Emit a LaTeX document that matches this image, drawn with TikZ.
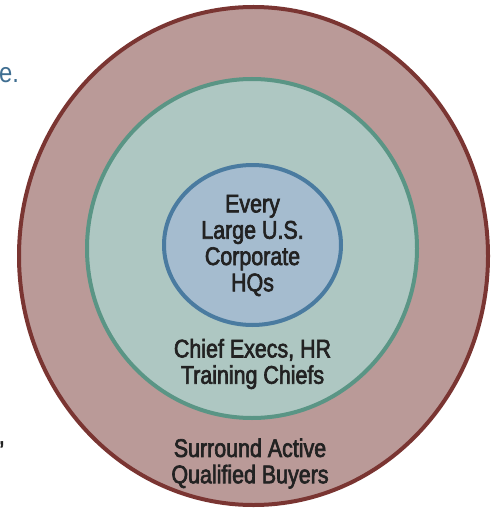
\documentclass[tikz,border=0pt]{standalone}
\usepackage{fontspec}
\setmainfont{Liberation Sans}
\newfontfamily\condfont{Liberation Sans}[FakeStretch=0.84, FakeBold=2.5]
\newfontfamily\plainfont{Liberation Sans}[FakeStretch=0.85]
\usetikzlibrary{shapes.geometric}
\definecolor{outerfill}{HTML}{BA9A98}
\definecolor{outerline}{HTML}{7A3532}
\definecolor{midfill}{HTML}{AEC7C2}
\definecolor{midline}{HTML}{5A9585}
\definecolor{innerfill}{HTML}{A5BCCF}
\definecolor{innerline}{HTML}{4A7BA0}
\definecolor{textdark}{HTML}{222222}
\definecolor{textblue}{HTML}{3F6E91}

\begin{document}
\begin{tikzpicture}[x = 1pt, y = -1pt, ring/.style = {ellipse, line width = 4pt, inner sep = 0pt},
	lbl/.style = {align = center, text = textdark, font = \condfont\fontsize{25.5}{26.3}\selectfont}]

	\useasboundingbox (0, 0) rectangle (497, 508);

	\node (Buyers) at (253.5, 256) [ring, draw = outerline, fill = outerfill, minimum width = 469pt, minimum height = 498pt] {};
	\node (Execs)  at (252, 248.5) [ring, draw = midline, fill = midfill, minimum width = 330pt, minimum height = 339pt] {};
	\node (HQs)    at (252.5, 245) [ring, draw = innerline, fill = innerfill, minimum width = 177pt, minimum height = 160pt] {};

	\node (HQsText)    at (252.5, 245.5) [lbl] {Every\\Large U.S.\\Corporate\\HQs};
	\node (ExecsText)  at (252.5, 364)   [lbl] {Chief Execs, HR\\Training Chiefs};
	\node (BuyersText) at (250, 463.5)   [lbl] {Surround Active\\Qualified Buyers};

	% bits of the text running beside the rings
	\node (TextE)     at (-1, 83)  [anchor = base west, inner sep = 0pt, text = textblue, font = \plainfont\fontsize{28}{30}\selectfont] {e.};
	\node (TextComma) at (5, 444)  [anchor = base east, inner sep = 0pt, text = textdark, font = \condfont\fontsize{25}{26}\selectfont] {,};

\end{tikzpicture}
\end{document}
